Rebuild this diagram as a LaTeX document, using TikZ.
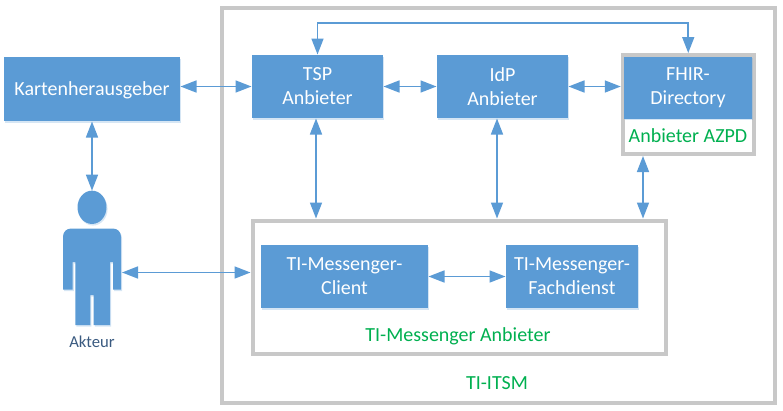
\documentclass[tikz,border=0pt]{standalone}
\usepackage{fontspec}
\setmainfont{Carlito}
\usetikzlibrary{arrows.meta,shadows,shapes.geometric}
\definecolor{blockblue}{HTML}{5B9BD5}
\definecolor{framegray}{HTML}{C8C8C8}
\definecolor{labelgreen}{HTML}{00B050}
\definecolor{akteurblue}{HTML}{3A5A80}
\tikzset{every picture/.style={line width=0.75pt}}
\tikzset{
  softshadow/.style={drop shadow={shadow xshift=0.8pt,shadow yshift=-1.2pt,fill=blockblue,opacity=0.25}},
  blockbox/.style={fill=blockblue,text=white,align=center,inner sep=0pt,softshadow,
    font=\fontsize{15}{18}\selectfont,
    execute at begin node={\rule{0pt}{12.75pt}}},
  framebox/.style={draw=framegray,fill=white,line width=3pt,inner sep=0pt,softshadow},
  greenlabel/.style={text=labelgreen,inner sep=0pt,font=\fontsize{15}{18}\selectfont},
  biarrow/.style={draw=blockblue,line width=1.2pt,
    {Triangle[length=12pt,width=9pt]}-{Triangle[length=12pt,width=9pt]}},
}
\begin{document}
\begin{tikzpicture}[x=0.75pt,y=0.75pt,yscale=-1,xscale=1]
\useasboundingbox (0,0) rectangle (783,411);

% frames
\node [framebox,minimum width=414.75pt,minimum height=296.25pt] (itsm) at (498.5,205.5) {};
\node [framebox,minimum width=309.75pt,minimum height=99.75pt] (msgr) at (459,287) {};
\node [framebox,minimum width=98.25pt,minimum height=74.25pt] (azpd) at (688.25,104.5) {};

% blocks
\node [blockbox,minimum width=132pt,minimum height=48pt] (karten) at (92,89) {Kartenherausgeber};
\node [blockbox,minimum width=98.25pt,minimum height=47.25pt] (tsp) at (317.5,86.5) {TSP\\Anbieter};
\node [blockbox,minimum width=98.25pt,minimum height=47.25pt] (idp) at (502.5,86.5) {IdP\\Anbieter};
\node [blockbox,minimum width=96pt,minimum height=46.5pt] (fhir) at (688,87.5) {FHIR-\\Directory};
\node [blockbox,minimum width=125.25pt,minimum height=47.25pt] (client) at (344.5,276.5) {TI-Messenger-\\Client};
\node [blockbox,minimum width=99pt,minimum height=47.25pt] (fachdienst) at (572,276.5) {TI-Messenger-\\Fachdienst};

% person
\node [ellipse,fill=blockblue,inner sep=0pt,outer sep=0pt,
  minimum width=21.75pt,minimum height=25pt,softshadow] (kopf) at (92,207.3) {};
\fill [blockblue,softshadow] (63,289.5) [rounded corners=6pt] -- (63,228.5) -- (121,228.5) [sharp corners]
  -- (121,289.5) -- (113,289.5) -- (113,262) -- (110,262) -- (110,325) -- (93.7,325) -- (93.7,295)
  -- (90.3,295) -- (90.3,325) -- (75.3,325) -- (75.3,262) -- (72.7,262) -- (72.7,289.5) -- cycle;
\coordinate (rumpf) at (122,272.5);

% labels
\node [text=akteurblue,inner sep=0pt,font=\fontsize{12.5}{15}\selectfont] (akteur) at (92,341.5) {Akteur};
\node [greenlabel] (itsmlabel) at (497,383) {TI-ITSM};
\node [greenlabel] (msgrlabel) at (458,336) {TI-Messenger Anbieter};
\node [greenlabel] (azpdlabel) at (688,136) {Anbieter AZPD};

% helper coordinates for the vertical connectors
\coordinate (idpx) at (497,170);
\coordinate (tspx) at (316,170);
\coordinate (azpdx) at (643,190);

\draw [biarrow] (karten.east |- tsp.west) -- (tsp.west);
\draw [biarrow] (karten.south) -- (kopf.north);
\draw [biarrow] (tsp.east) -- (idp.west);
\draw [biarrow] (idp.east) -- (azpd.west |- idp.east);
\draw [biarrow] (tsp.north) -- (317.5,23) -| (azpd.north);
\draw [biarrow] (tspx |- tsp.south) -- (tspx |- msgr.north);
\draw [biarrow] (idpx |- idp.south) -- (idpx |- msgr.north);
\draw [biarrow] (azpdx |- azpd.south) -- (azpdx |- msgr.north);
\draw [biarrow] (rumpf) -- (rumpf -| msgr.west);
\draw [biarrow] (client.east) -- (fachdienst.west);

\end{tikzpicture}
\end{document}
